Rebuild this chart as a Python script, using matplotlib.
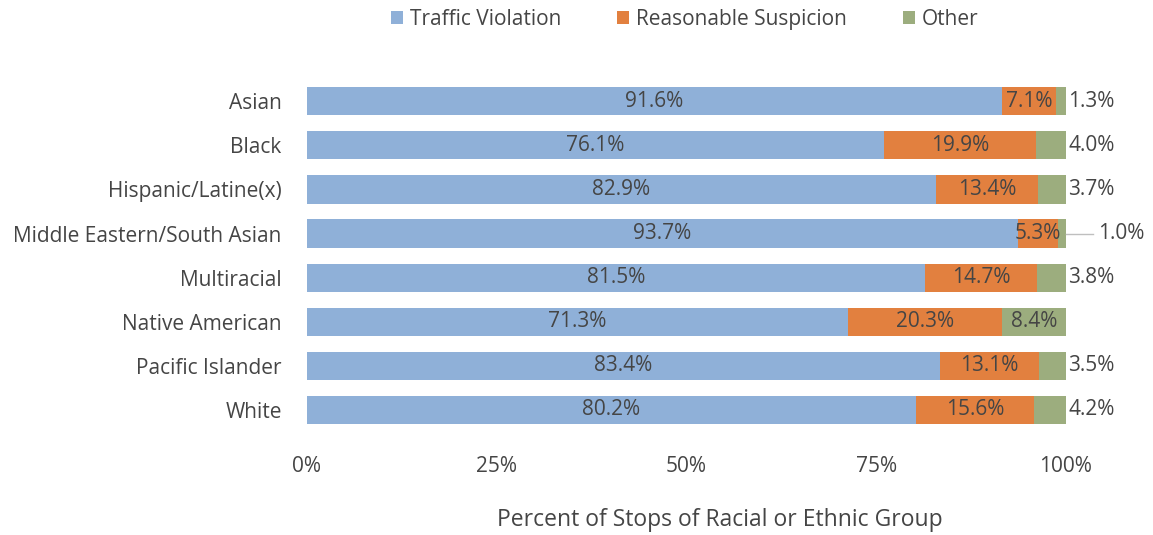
import matplotlib.pyplot as plt
import numpy as np

plt.rcParams['font.family'] = ['Open Sans', 'DejaVu Sans']

groups = ['Asian', 'Black', 'Hispanic/Latine(x)', 'Middle Eastern/South Asian',
          'Multiracial', 'Native American', 'Pacific Islander', 'White']
traffic = [91.6, 76.1, 82.9, 93.7, 81.5, 71.3, 83.4, 80.2]
suspicion = [7.1, 19.9, 13.4, 5.3, 14.7, 20.3, 13.1, 15.6]
other = [1.3, 4.0, 3.7, 1.0, 3.8, 8.4, 3.5, 4.2]

c_blue = '#8FB0D8'
c_orange = '#E2803F'
c_green = '#9CAD7E'
txt = '#454545'

fig = plt.figure(figsize=(11.53, 5.35), dpi=100)
ax = fig.add_axes([0.266, 0.1925, 0.6585, 0.6595])

y = np.arange(len(groups))
t = np.array(traffic)
s = np.array(suspicion)
o = np.array(other)
# scale to 100 for stacked drawing
tot = t + s + o
tn = t / tot * 100
sn = s / tot * 100
on = o / tot * 100

fs = 15
h = 0.64
ax.barh(y, tn, h, color=c_blue, label='Traffic Violation')
ax.barh(y, sn, h, left=tn, color=c_orange, label='Reasonable Suspicion')
ax.barh(y, on, h, left=tn + sn, color=c_green, label='Other')

for i in range(len(groups)):
    ax.text(tn[i] / 2, y[i], f'{traffic[i]:.1f}%', ha='center', va='center',
            fontsize=fs, color=txt)
    ax.text(tn[i] + sn[i] / 2, y[i], f'{suspicion[i]:.1f}%', ha='center', va='center',
            fontsize=fs, color=txt)
    if groups[i] == 'Native American':
        ax.text(tn[i] + sn[i] + on[i] / 2, y[i], f'{other[i]:.1f}%', ha='center',
                va='center', fontsize=fs, color=txt)
    elif groups[i] == 'Middle Eastern/South Asian':
        ax.plot([100, 103.5], [y[i], y[i]], color='#BFBFBF', lw=1, clip_on=False)
        ax.text(104.2, y[i], f'{other[i]:.1f}%', ha='left', va='center',
                fontsize=fs, color=txt)
    else:
        ax.text(100.3, y[i], f'{other[i]:.1f}%', ha='left', va='center',
                fontsize=fs, color=txt)

ax.set_xlim(0, 100)
ax.set_ylim(len(groups) - 0.5, -0.5)
ax.set_yticks(y)
ax.set_yticklabels(groups, fontsize=fs, color=txt)
ax.set_xticks([0, 25, 50, 75, 100])
ax.set_xticklabels(['0%', '25%', '50%', '75%', '100%'], fontsize=fs, color=txt)
ax.tick_params(axis='y', length=0, pad=18)
ax.tick_params(axis='x', length=0, pad=17)
for sp in ax.spines.values():
    sp.set_visible(False)
ax.set_xlabel('Percent of Stops of Racial or Ethnic Group', fontsize=16.5, color=txt)
ax.xaxis.set_label_coords(0.544, -0.215)

fig.legend(loc='center', bbox_to_anchor=(0.594, 0.964), ncol=3, frameon=False,
           fontsize=fs, labelcolor=txt, handlelength=0.55, handleheight=0.55,
           handletextpad=0.35, columnspacing=2.7)

plt.savefig('out.png', dpi=100)
